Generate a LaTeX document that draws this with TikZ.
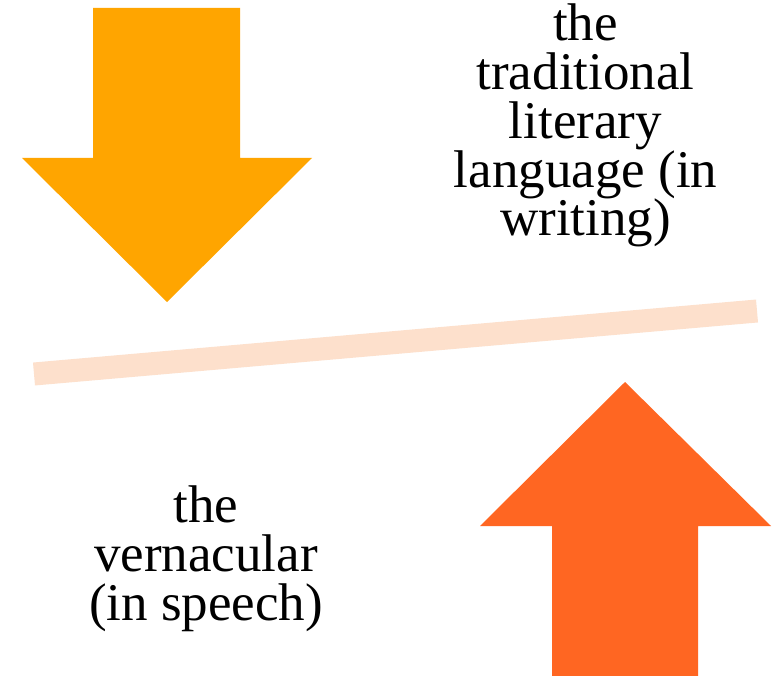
\documentclass[tikz,border=0pt]{standalone}
\usepackage{fontspec}
\setmainfont{Liberation Serif}
\definecolor{arrowA}{RGB}{255,165,0}
\definecolor{arrowB}{RGB}{255,102,34}
\definecolor{barcol}{RGB}{253,224,204}
\begin{document}
\begin{tikzpicture}[x=1pt,y=-1pt,
  lbl/.style={align=center,inner sep=0pt,anchor=base,font=\fontsize{53}{48.8}\selectfont}]
\useasboundingbox (0,0) rectangle (773,676);
\fill[white] (0,0) rectangle (773,676);
% down arrow
\fill[arrowA] (93,8) -- (240,8) -- (240,158) -- (312,158) -- (167,302) -- (22,158) -- (93,158) -- cycle;
% up arrow
\fill[arrowB] (552,676) -- (698,676) -- (698,526) -- (771,526) -- (625,382) -- (480,526) -- (552,526) -- cycle;
% bar
\coordinate (b1) at (34,374);
\coordinate (b2) at (757,311);
\draw[barcol,line width=23pt] (b1) -- (b2);
\node[lbl] (top) at (585.5,236) {the\\traditional\\literary\\language (in\\writing)};
\node[lbl] (bot) at (206,620) {the\\vernacular\\(in speech)};
\end{tikzpicture}
\end{document}
